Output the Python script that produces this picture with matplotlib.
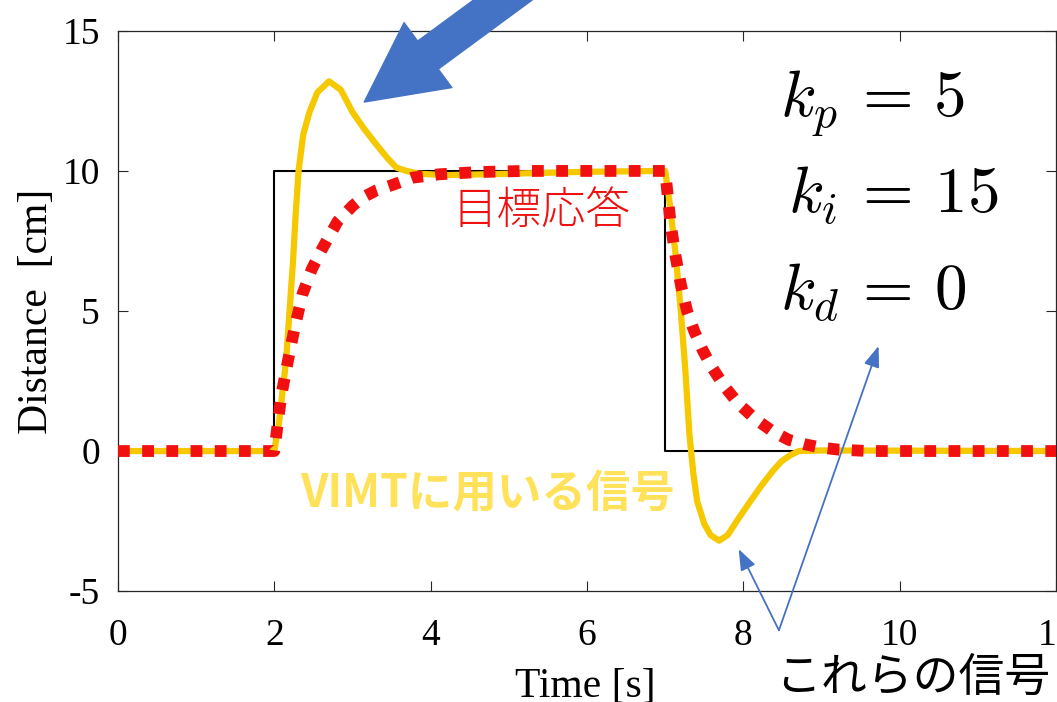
import numpy as np
import matplotlib
matplotlib.use('Agg')
import matplotlib.pyplot as plt

plt.rcParams['mathtext.fontset'] = 'cm'

# 目標値 (ステップ)
t_ref = [0, 2, 2, 7, 7, 12]
y_ref = [0, 0, 10, 10, 0, 0]

# VIMTに用いる信号 (黄色)
t_vimt = [0, 2.0, 2.06, 2.1, 2.15, 2.2, 2.24, 2.27, 2.31, 2.37, 2.45, 2.55, 2.7,
          2.85, 3.0, 3.15, 3.3, 3.45, 3.56, 3.69, 3.85, 4.2, 5.0, 6.0, 7.0,
          7.06, 7.13, 7.2, 7.26, 7.31, 7.36, 7.41, 7.5, 7.58, 7.69, 7.8, 7.94,
          8.1, 8.24, 8.38, 8.49, 8.6, 8.71, 9.0, 12]
y_vimt = [0, 0, 1.0, 2.0, 3.2, 5.2, 6.8, 8.3, 10.0, 11.3, 12.1, 12.8, 13.2,
          12.9, 12.1, 11.5, 10.96, 10.45, 10.12, 10.0, 9.9, 9.85, 9.9, 9.97, 10.0,
          8.8, 7.1, 5.0, 2.8, 0.6, -0.8, -1.8, -2.6, -3.0, -3.2, -3.0, -2.4,
          -1.75, -1.2, -0.7, -0.36, -0.15, 0.0, 0.02, 0]

# 目標応答 (赤点線)
t_target = [0, 2.0, 2.09, 2.18, 2.26, 2.36, 2.48, 2.62, 2.81, 3.0, 3.13, 3.3,
            3.47, 3.77, 4.11, 4.6, 5.2, 7.0, 7.07, 7.13, 7.2, 7.28, 7.37, 7.48,
            7.6, 7.76, 7.94, 8.15, 8.37, 8.58, 8.79, 9.0, 9.22, 9.6, 12]
y_target = [0, 0, 2.0, 3.3, 4.4, 5.6, 6.5, 7.26, 8.2, 8.75, 9.05, 9.3,
            9.46, 9.76, 9.88, 9.96, 10.0, 10.0, 8.1, 7.0, 5.95, 5.0, 4.29, 3.6,
            2.98, 2.3, 1.68, 1.15, 0.71, 0.4, 0.24, 0.12, 0.05, 0.0, 0]

xticks = [0, 2, 4, 6, 8, 10, 12]
yticks = [-5, 0, 5, 10, 15]
ytick_labels = ['-5', '0', '5', '10', '15']

gains = [r'$k_p\,=\,5$', r'$k_i\,=\,15$', r'$k_d\,=\,0$']

serif = 'Liberation Serif'
jp = ['Noto Sans CJK JP', 'DejaVu Sans']
blue = '#4472C4'

fig = plt.figure(figsize=(10.57, 7.02), dpi=100)
ax = fig.add_axes([0.1116, 0.158, 0.8875, 0.798])

ax.plot(t_ref, y_ref, color='black', lw=1.5, zorder=2)
ax.plot(t_vimt, y_vimt, color='#F5C800', lw=4.5, zorder=3)
ax.plot(t_target, y_target, color='#F01010', lw=8.5, dashes=(1, 1.05),
        dash_capstyle='butt', zorder=4)

ax.set_xlim(0, 12)
ax.set_ylim(-5, 15)
ax.set_xticks(xticks)
ax.set_xticklabels([str(v) for v in xticks], fontfamily=serif, fontsize=27)
ax.set_yticks(yticks)
ax.set_yticklabels(ytick_labels, fontfamily=serif, fontsize=27)
ax.tick_params(direction='in', top=True, right=True, length=7, width=0.8,
               color='#262626')
ax.tick_params(axis='x', pad=20)
ax.tick_params(axis='y', pad=13)
for s in ax.spines.values():
    s.set_linewidth(0.9)
    s.set_color('#262626')

ax.set_xlabel('Time [s]', fontfamily=serif, fontsize=30)
ax.set_ylabel('Distance  [cm]', fontfamily=serif, fontsize=30)
ax.xaxis.set_label_coords(0.498, -0.136)
ax.yaxis.set_label_coords(-0.066, 0.5)

# ゲイン表示
gx = [780, 788, 780]
gy = [117, 213, 310]
for s, x, y in zip(gains, gx, gy):
    fig.text(x / 1057, 1 - y / 702, s, fontsize=47, ha='left', va='baseline')

# 注釈テキスト
fig.text(542 / 1057, 1 - 211 / 702, '目標応答', family=jp, fontsize=32,
         fontweight='light', color='#F01010', ha='center', va='center')
fig.text(488 / 1057, 1 - 495 / 702, 'VIMTに用いる信号', family=jp, fontsize=32,
         fontweight='bold', color='#FFE15A', ha='center', va='center')
fig.text(775 / 1057, 1 - 678 / 702, 'これらの信号', family=jp, fontsize=33,
         color='black', ha='left', va='center')

# 太い青矢印
ax.annotate('', xy=(3.15, 12.46), xytext=(5.75, 17.8),
            arrowprops=dict(arrowstyle='simple,head_length=2.85,head_width=2.9,tail_width=1.25',
                            color=blue, shrinkA=0, shrinkB=0, mutation_scale=20),
            annotation_clip=False)

# 細い青矢印
for tip in [(9.73, 3.75), (7.94, -3.5)]:
    ax.annotate('', xy=tip, xytext=(8.455, -6.4),
                arrowprops=dict(arrowstyle='-|>,head_length=0.8,head_width=0.3',
                                color=blue, lw=1.3, shrinkA=0, shrinkB=0,
                                mutation_scale=16),
                annotation_clip=False)

fig.savefig('out.png', dpi=100)
